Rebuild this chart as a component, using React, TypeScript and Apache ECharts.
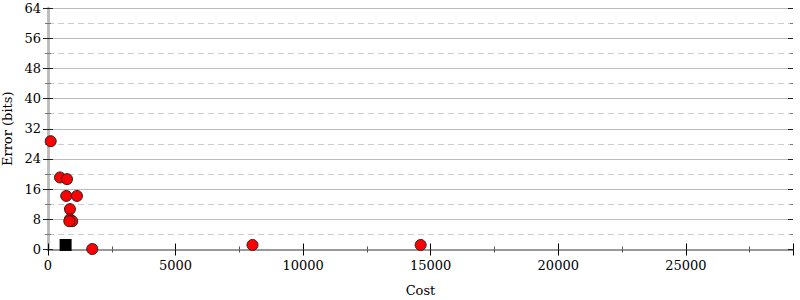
import React, { useEffect, useRef } from "react";
import * as echarts from "echarts";

const circleCost = [105, 470, 745, 715, 1135, 860, 860, 950, 835, 1735, 8015, 14605];
const circleError = [28.7, 19.1, 18.65, 14.2, 14.2, 10.7, 8.0, 7.5, 7.5, 0.13, 1.2, 1.2];
const squareCost = [690];
const squareError = [1.2];

const X_MIN = 0;
const X_MAX = 29200;
const X_INTERVAL = 5000;
const Y_MIN = 0;
const Y_MAX = 64;
const Y_INTERVAL = 8;

const FONT = "'DejaVu Serif', serif";
const FS = 13;

export default function App() {
  const ref = useRef<HTMLDivElement>(null);
  useEffect(() => {
    if (!ref.current) return;
    document.body.style.margin = "0";
    const chart = echarts.init(ref.current, undefined, { renderer: "svg" });
    const xBase = { type: "value", min: X_MIN, max: X_MAX, interval: X_INTERVAL };
    const yBase = { type: "value", min: Y_MIN, max: Y_MAX, interval: Y_INTERVAL };
    const noLabel = { show: false };
    chart.setOption({
      animation: false,
      backgroundColor: "#fff",
      grid: { left: 48, right: 7, top: 8, bottom: 50.5, containLabel: false, outerBoundsMode: "none" },
      xAxis: [
        {
          ...xBase,
          position: "bottom",
          name: "Cost",
          nameLocation: "middle",
          nameGap: 34,
          nameTextStyle: { fontFamily: FONT, fontSize: FS, color: "#000" },
          axisLine: { show: true, lineStyle: { color: "#999", width: 2 } },
          axisTick: { show: true, length: 6, lineStyle: { color: "#000" } },
          minorTick: { show: true, splitNumber: 2, length: 3, lineStyle: { color: "#555" } },
          axisLabel: {
            fontFamily: FONT,
            fontSize: FS,
            color: "#000",
            margin: 9,
            showMaxLabel: false,
            formatter: (v: number) => String(v),
          },
          splitLine: { show: false },
        },
        {
          ...xBase,
          position: "bottom",
          axisLine: { show: false },
          axisTick: { show: true, inside: true, length: 6, lineStyle: { color: "#000" } },
          minorTick: { show: true, splitNumber: 2, length: 3, lineStyle: { color: "#555" } },
          axisLabel: noLabel,
          splitLine: { show: false },
        },
        {
          ...xBase,
          position: "top",
          axisLine: { show: true, lineStyle: { color: "#999", width: 2 } },
          axisTick: { show: false },
          axisLabel: noLabel,
          splitLine: { show: false },
        },
      ],
      yAxis: [
        {
          ...yBase,
          position: "left",
          name: "Error (bits)",
          nameLocation: "middle",
          nameGap: 33,
          nameRotate: 90,
          nameTextStyle: { fontFamily: FONT, fontSize: FS, color: "#000" },
          axisLine: { show: true, lineStyle: { color: "#bbb", width: 2.5 } },
          axisTick: { show: true, length: 5, lineStyle: { color: "#222" } },
          minorTick: { show: true, splitNumber: 2, length: 3, lineStyle: { color: "#777" } },
          axisLabel: { fontFamily: FONT, fontSize: FS, color: "#000", margin: 7 },
          splitLine: { show: true, lineStyle: { color: "#bbb", width: 1 } },
          minorSplitLine: { show: true, lineStyle: { color: "#ccc", width: 1, type: [6, 4] } },
        },
        {
          ...yBase,
          position: "left",
          axisLine: { show: false },
          axisTick: { show: true, inside: true, length: 5, lineStyle: { color: "#222" } },
          minorTick: { show: true, splitNumber: 2, length: 3, lineStyle: { color: "#777" } },
          axisLabel: noLabel,
          splitLine: { show: false },
        },
        {
          ...yBase,
          position: "right",
          axisLine: { show: true, lineStyle: { color: "#bbb", width: 2.5 } },
          axisTick: { show: true, length: 3, lineStyle: { color: "#222" } },
          minorTick: { show: true, splitNumber: 2, length: 2, lineStyle: { color: "#777" } },
          axisLabel: noLabel,
          splitLine: { show: false },
        },
        {
          ...yBase,
          position: "right",
          axisLine: { show: false },
          axisTick: { show: true, inside: true, length: 5, lineStyle: { color: "#222" } },
          minorTick: { show: true, splitNumber: 2, length: 3, lineStyle: { color: "#777" } },
          axisLabel: noLabel,
          splitLine: { show: false },
        },
      ],
      series: [
        {
          type: "scatter",
          xAxisIndex: 0,
          yAxisIndex: 0,
          symbol: "circle",
          symbolSize: 11,
          itemStyle: { color: "#ff0000", borderColor: "#222", borderWidth: 1, opacity: 1 },
          data: circleCost.map((c, i) => [c, circleError[i]]),
          z: 3,
        },
        {
          type: "scatter",
          xAxisIndex: 0,
          yAxisIndex: 0,
          symbol: "rect",
          symbolSize: 12,
          itemStyle: { color: "#000", opacity: 1 },
          data: squareCost.map((c, i) => [c, squareError[i]]),
          z: 4,
        },
      ],
    });
    return () => chart.dispose();
  }, []);
  return <div ref={ref} style={{ width: 800, height: 300 }} />;
}
